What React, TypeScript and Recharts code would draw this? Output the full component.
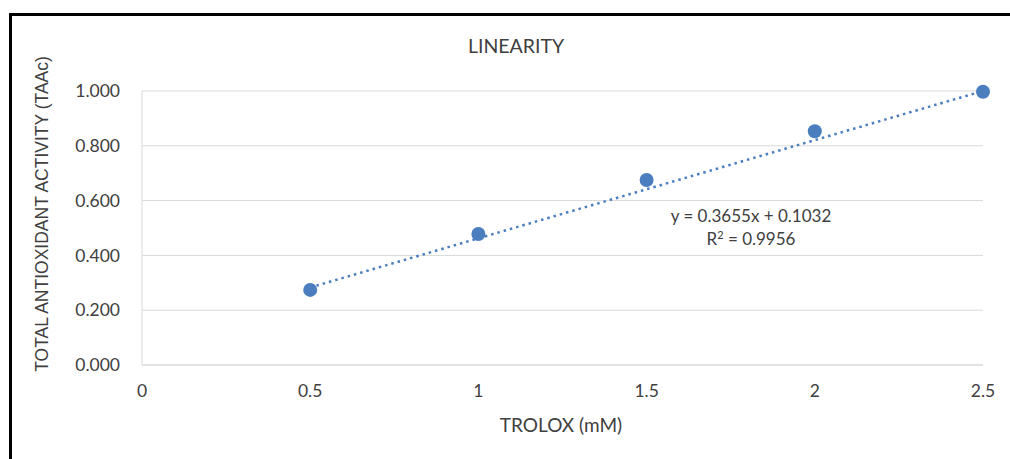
import { CartesianGrid, Scatter, ScatterChart, XAxis, YAxis } from "recharts";

const trolox = [0.5, 1, 1.5, 2, 2.5];
const taac = [0.274, 0.478, 0.675, 0.853, 0.997];
const trendX = [0.5, 2.5];
const trendY = [0.283, 1.0];
const xTicks = [0, 0.5, 1, 1.5, 2, 2.5];
const yTicks = [0, 0.2, 0.4, 0.6, 0.8, 1];

const FONT = "Lato, 'Open Sans', sans-serif";
const BLUE = "#4a7ebf";
const TEXT = "#404040";

const points = trolox.map((x, i) => ({ x, y: taac[i] }));
const trend = trendX.map((x, i) => ({ x, y: trendY[i] }));

const App = () => {
  return (
    <div
      style={{
        position: "absolute",
        left: 0,
        top: 0,
        width: 1010,
        height: 459,
        overflow: "hidden",
        background: "#fff",
        fontFamily: FONT,
        color: TEXT,
      }}
    >
      {/* chart frame, only top and left edges are visible */}
      <div
        style={{
          position: "absolute",
          left: 9,
          top: 13,
          width: 1100,
          height: 600,
          borderTop: "3px solid #000",
          borderLeft: "3px solid #000",
        }}
      />
      <ScatterChart
        width={1010}
        height={459}
        margin={{ top: 91, right: 27, bottom: 54, left: 72 }}
        style={{ position: "absolute", left: 0, top: 0 }}
      >
        <CartesianGrid horizontal vertical={false} stroke="#d9d9d9" />
        <XAxis
          type="number"
          dataKey="x"
          domain={[0, 2.5]}
          ticks={xTicks}
          tickFormatter={(v) => String(v)}
          axisLine={{ stroke: "#d9d9d9" }}
          tickLine={false}
          tick={{ fill: TEXT, fontSize: 17.5, fontFamily: FONT }}
          tickMargin={14}
          height={40}
        />
        <YAxis
          type="number"
          dataKey="y"
          domain={[0, 1]}
          ticks={yTicks}
          tickFormatter={(v) => v.toFixed(3)}
          axisLine={{ stroke: "#d9d9d9" }}
          tickLine={false}
          tick={{ fill: TEXT, fontSize: 17.5, fontFamily: FONT }}
          tickMargin={16}
          width={70}
        />
        <Scatter
          data={trend}
          line={{
            stroke: BLUE,
            strokeWidth: 2.5,
            strokeDasharray: "2.5 4",
          }}
          shape={() => null}
          isAnimationActive={false}
        />
        <Scatter
          data={points}
          fill={BLUE}
          shape={(p: any) => <circle cx={p.cx} cy={p.cy} r={7} fill={BLUE} />}
          isAnimationActive={false}
        />
      </ScatterChart>
      <div
        style={{
          position: "absolute",
          left: 0,
          width: 1032,
          top: 34,
          textAlign: "center",
          fontSize: 19.5,
        }}
      >
        LINEARITY
      </div>
      <div
        style={{
          position: "absolute",
          left: 0,
          width: 1122,
          top: 413,
          textAlign: "center",
          fontSize: 19,
        }}
      >
        TROLOX (mM)
      </div>
      <div
        style={{
          position: "absolute",
          left: 42 - 200,
          top: 214 - 10,
          width: 400,
          height: 20,
          lineHeight: "20px",
          textAlign: "center",
          fontSize: 17.5,
          fontFamily: "'Liberation Sans', Arial, sans-serif",
          transform: "rotate(-90deg)",
          transformOrigin: "200px 10px",
        }}
      >
        TOTAL ANTIOXIDANT ACTIVITY (TAAc)
      </div>
      <div
        style={{
          position: "absolute",
          left: 651,
          width: 200,
          top: 204,
          textAlign: "center",
          fontSize: 17,
          lineHeight: "23px",
        }}
      >
        <div>y = 0.3655x + 0.1032</div>
        <div>
          R<sup style={{ fontSize: 11, verticalAlign: "6px", lineHeight: 0 }}>2</sup> = 0.9956
        </div>
      </div>
    </div>
  );
};

export default App;
